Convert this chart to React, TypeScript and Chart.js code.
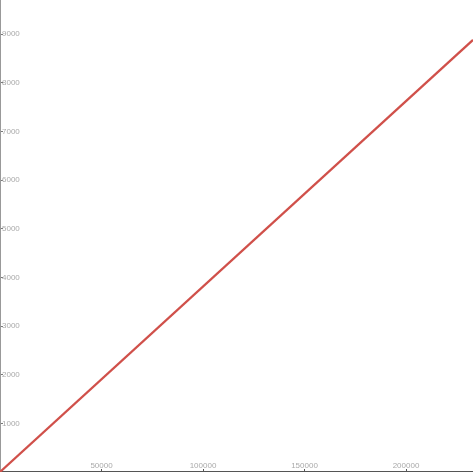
import { useEffect, useRef } from "react";
import Chart from "chart.js/auto";

// line runs straight from the origin to the top right corner
const xValues = [0, 233000];
const yValues = [0, 8880];
const xTicks = [50000, 100000, 150000, 200000];
const yTicks = [1000, 2000, 3000, 4000, 5000, 6000, 7000, 8000, 9000];

export default function App() {
  const chartRef = useRef<HTMLCanvasElement | null>(null);
  const chartInstance = useRef<Chart | null>(null);

  useEffect(() => {
    document.body.style.margin = "0";
    if (chartInstance.current) chartInstance.current.destroy();
    if (!chartRef.current) return;

    const points = xValues.map((x, i) => ({ x, y: yValues[i] }));

    // axes take no room: labels sit inside the plot
    const noRoom = (scale: any) => {
      if (scale.isHorizontal()) scale.height = 0;
      else scale.width = 0;
      scale.paddingTop = 0;
      scale.paddingBottom = 0;
      scale.paddingLeft = 0;
      scale.paddingRight = 0;
    };

    chartInstance.current = new Chart(chartRef.current, {
      type: "line",
      data: {
        datasets: [
          {
            data: points,
            borderColor: "#d0504a",
            borderWidth: 2.2,
            pointRadius: 0,
            fill: false,
          },
        ],
      },
      options: {
        responsive: false,
        animation: false,
        layout: { padding: 0, autoPadding: false },
        plugins: { legend: { display: false }, tooltip: { enabled: false } },
        scales: {
          x: {
            type: "linear",
            position: "bottom",
            min: 0,
            max: 233000,
            afterFit: noRoom,
            afterBuildTicks: (scale) => {
              scale.ticks = xTicks.map((value) => ({ value }));
            },
            grid: {
              display: true,
              drawOnChartArea: false,
              drawTicks: true,
              tickLength: -3,
              color: "#555",
            },
            border: { display: true, color: "#555", width: 2 },
            ticks: {
              mirror: true,
              padding: 1,
              maxRotation: 0,
              autoSkip: false,
              color: "#aaa",
              font: { size: 8, family: "Liberation Sans" },
              callback: (v) => String(v),
            },
          },
          y: {
            type: "linear",
            position: "left",
            min: 0,
            max: 9700,
            afterFit: noRoom,
            afterBuildTicks: (scale) => {
              scale.ticks = yTicks.map((value) => ({ value }));
            },
            grid: {
              display: true,
              drawOnChartArea: false,
              drawTicks: true,
              tickLength: -3,
              color: "#777",
            },
            border: { display: true, color: "#999", width: 2 },
            ticks: {
              mirror: true,
              padding: 2,
              color: "#aaa",
              font: { size: 8, family: "Liberation Sans" },
              callback: (v) => String(v),
            },
          },
        },
      },
    });

    return () => {
      if (chartInstance.current) {
        chartInstance.current.destroy();
        chartInstance.current = null;
      }
    };
  }, []);

  return (
    <div style={{ width: 473, height: 472 }}>
      <canvas ref={chartRef} width={473} height={472} />
    </div>
  );
}
